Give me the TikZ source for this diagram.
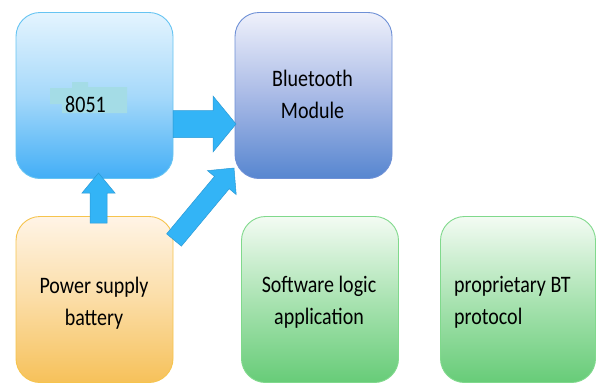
\documentclass[tikz,border=0pt]{standalone}
\usepackage{fontspec}
\setmainfont{Carlito}
\usepackage{graphicx}
\usetikzlibrary{calc}
\definecolor{blTop}{HTML}{E4F4FE}
\definecolor{blMid}{HTML}{A6D9FA}
\definecolor{blBot}{HTML}{42AEF6}
\definecolor{blLine}{HTML}{66C4F2}
\definecolor{btTop}{HTML}{EFF1FB}
\definecolor{btMid}{HTML}{A9BAE6}
\definecolor{btBot}{HTML}{5686D0}
\definecolor{btLine}{HTML}{6E90D6}
\definecolor{pwTop}{HTML}{FFF4E6}
\definecolor{pwMid}{HTML}{FBDDA6}
\definecolor{pwBot}{HTML}{F6C15A}
\definecolor{pwLine}{HTML}{F6C44E}
\definecolor{grTop}{HTML}{F3FBF3}
\definecolor{grMid}{HTML}{AAE3B2}
\definecolor{grBot}{HTML}{67CC78}
\definecolor{grLine}{HTML}{80D98C}
\definecolor{arrFill}{HTML}{33B4F6}
\definecolor{arrLine}{HTML}{2B9AD6}
\definecolor{patchCol}{HTML}{A4DCE6}
\tikzset{
  box/.style={draw, line width=0.9pt, rounded corners=24pt, minimum width=157pt, minimum height=166pt, inner sep=0pt},
  bluebox/.style={box, draw=blLine, top color=blTop, bottom color=blBot, middle color=blMid},
  btbox/.style={box, draw=btLine, top color=btTop, bottom color=btBot, middle color=btMid},
  pwbox/.style={box, draw=pwLine, top color=pwTop, bottom color=pwBot, middle color=pwMid},
  grbox/.style={box, draw=grLine, top color=grTop, bottom color=grBot, middle color=grMid},
  lbl/.style={inner sep=0pt, font=\fontsize{20}{27}\selectfont, text=black},
  barrow/.style={fill=arrFill, draw=arrLine, line width=0.5pt, line join=miter},
}
\newcommand\blockarrow[6]{%
  \coordinate (#1h) at ($(#3)!#4!(#2)$);
  \draw[barrow] ($(#2)!#5!90:(#3)$) -- ($(#1h)!#5!90:(#3)$) -- ($(#1h)!#6!90:(#3)$) -- (#3)
    -- ($(#1h)!#6!-90:(#3)$) -- ($(#1h)!#5!-90:(#3)$) -- ($(#2)!#5!-90:(#3)$) -- cycle;
}
\newcommand\twolines[2]{\scalebox{1}[1.18]{\begin{tabular}{@{}c@{}}#1\\#2\end{tabular}}}
\begin{document}
\begin{tikzpicture}[x=1pt,y=-1pt]
\useasboundingbox (0,0) rectangle (596,383);
\fill[white] (0,0) rectangle (596,383);
% boxes
\node[bluebox] (n8051) at (94.5,95.5) {};
\node[btbox] (bt) at (313.5,95.5) {};
\node[pwbox] (pw) at (94.5,299.5) {};
\node[grbox] (sw) at (320,299.5) {};
\node[grbox, minimum width=155pt] (pr) at (518,299.5) {};
% highlight patch behind 8051
\fill[patchCol] (50,88) -- (72,88) -- (72,82) -- (88,82) -- (88,87) -- (127,87) -- (127,113) -- (62,113) -- (62,104) -- (50,104) -- cycle;
% labels
\node[lbl] (t8051) at (85.5,106.6) {\scalebox{1}[1.18]{\begin{tabular}{@{}c@{}}8051\end{tabular}}};
\node[lbl] (tbt) at (312.5,96.5) {\twolines{Bluetooth}{Module}};
\node[lbl] (tpw) at (94,303) {\twolines{Power supply}{battery}};
\node[lbl] (tsw) at (319,302) {\twolines{Software logic}{application}};
\node[lbl, anchor=west] (tpr) at (454,302) {\scalebox{1}[1.18]{\begin{tabular}{@{}l@{}}proprietary BT\\protocol\end{tabular}}};
% arrows
\coordinate (a1s) at (173,124);
\coordinate (a1e) at (236,124);
\coordinate (a2s) at (98.5,223);
\coordinate (a2e) at (98.5,173);
\coordinate (a3s) at (174,240);
\coordinate (a3e) at (234,168);
\blockarrow{a1}{a1s}{a1e}{23pt}{13.5pt}{28pt}
\blockarrow{a2}{a2s}{a2e}{20pt}{8.5pt}{16.5pt}
\blockarrow{a3}{a3s}{a3e}{19pt}{9.6pt}{18.7pt}
\end{tikzpicture}
\end{document}
